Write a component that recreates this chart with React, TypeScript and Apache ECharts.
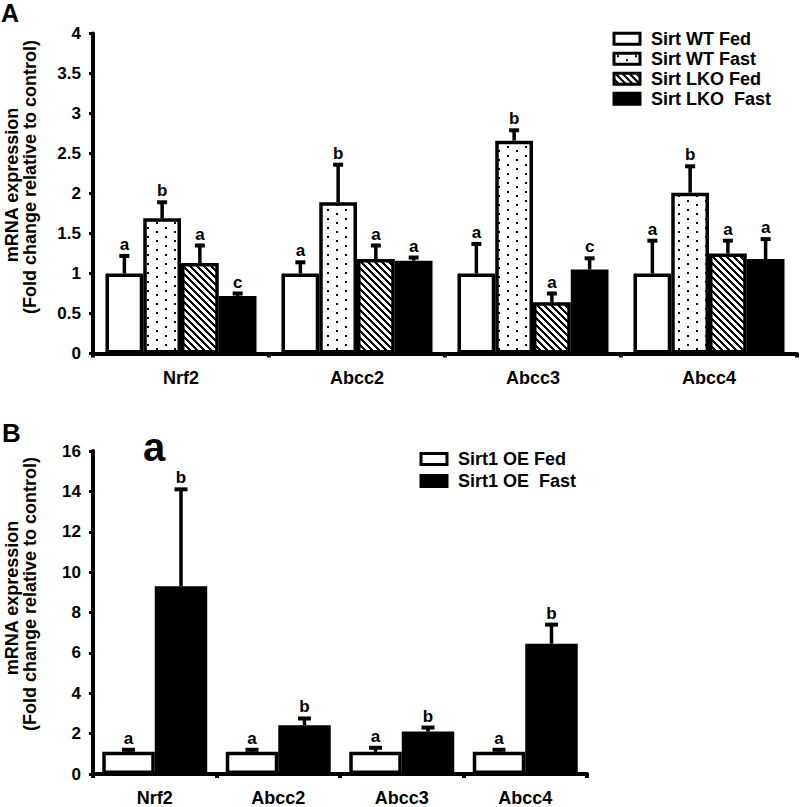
import React, { useEffect, useRef } from 'react';
import * as echarts from 'echarts';

const FONT = '"Liberation Sans", Arial, sans-serif';

// ---------- Panel A data ----------
const categoriesA = ['Nrf2', 'Abcc2', 'Abcc3', 'Abcc4'];
const namesA = ['Sirt WT Fed', 'Sirt WT Fast', 'Sirt LKO Fed', 'Sirt LKO  Fast'];
const wtFed = [1.0, 1.0, 1.0, 1.0];
const wtFedErr = [0.22, 0.14, 0.37, 0.41];
const wtFedSig = ['a', 'a', 'a', 'a'];
const wtFast = [1.69, 1.89, 2.66, 2.01];
const wtFastErr = [0.2, 0.47, 0.13, 0.33];
const wtFastSig = ['b', 'b', 'b', 'b'];
const lkoFed = [1.13, 1.18, 0.64, 1.25];
const lkoFedErr = [0.22, 0.17, 0.11, 0.16];
const lkoFedSig = ['a', 'a', 'a', 'a'];
const lkoFast = [0.72, 1.16, 1.05, 1.18];
const lkoFastErr = [0.03, 0.04, 0.14, 0.25];
const lkoFastSig = ['c', 'a', 'c', 'a'];

// ---------- Panel B data ----------
const categoriesB = ['Nrf2', 'Abcc2', 'Abcc3', 'Abcc4'];
const namesB = ['Sirt1 OE Fed', 'Sirt1 OE  Fast'];
const oeFed = [1.1, 1.1, 1.1, 1.1];
const oeFedErr = [0.1, 0.1, 0.2, 0.1];
const oeFedSig = ['a', 'a', 'a', 'a'];
const oeFast = [9.3, 2.42, 2.1, 6.45];
const oeFastErr = [4.8, 0.33, 0.2, 0.95];
const oeFastSig = ['b', 'b', 'b', 'b'];

const GAP_A = 0.142;
const GAP_B = 0.15;

function dotPattern() {
  const c = document.createElement('canvas');
  c.width = 18;
  c.height = 9;
  const ctx = c.getContext('2d')!;
  ctx.fillStyle = '#fff';
  ctx.fillRect(0, 0, 18, 9);
  ctx.fillStyle = '#000';
  ctx.fillRect(3, 2, 2, 2);
  ctx.fillRect(12, 6, 2, 2);
  return { image: c, repeat: 'repeat', imageWidth: 18, imageHeight: 9 };
}

function hatchPattern() {
  const n = 7;
  const c = document.createElement('canvas');
  c.width = n;
  c.height = n;
  const ctx = c.getContext('2d')!;
  const img = ctx.createImageData(n, n);
  for (let y = 0; y < n; y++) {
    for (let x = 0; x < n; x++) {
      const k = (((x - y) % n) + n) % n;
      const v = k < 3 ? 0 : 255;
      const i = (y * n + x) * 4;
      img.data[i] = v;
      img.data[i + 1] = v;
      img.data[i + 2] = v;
      img.data[i + 3] = 255;
    }
  }
  ctx.putImageData(img, 0, 0);
  return { image: c, repeat: 'repeat', imageWidth: n, imageHeight: n };
}

function errorSeries(
  means: number[][],
  errs: number[][],
  sigs: string[][],
  gap: number,
  axisIndex: number,
  capHalf: number
) {
  const n = means.length;
  const data: number[][] = [];
  const letters: string[] = [];
  for (let s = 0; s < n; s++) {
    for (let c = 0; c < means[s].length; c++) {
      data.push([c, s, means[s][c], means[s][c] + errs[s][c]]);
      letters.push(sigs[s][c]);
    }
  }
  return {
    type: 'custom',
    xAxisIndex: axisIndex,
    yAxisIndex: axisIndex,
    z: 5,
    silent: true,
    encode: { x: 0, y: 3 },
    data,
    renderItem: (params: any, api: any) => {
      const cat = api.value(0);
      const si = api.value(1);
      const mean = api.value(2);
      const top = api.value(3);
      const p0 = api.coord([cat, mean]);
      const p1 = api.coord([cat, top]);
      const band = api.size([1, 0])[0];
      const bw = (band * (1 - gap)) / n;
      const x = p0[0] + (si - (n - 1) / 2) * bw;
      return {
        type: 'group',
        children: [
          {
            type: 'line',
            shape: { x1: x, y1: p0[1], x2: x, y2: p1[1] },
            style: { stroke: '#000', lineWidth: 3.5 },
          },
          {
            type: 'line',
            shape: { x1: x - capHalf, y1: p1[1], x2: x + capHalf, y2: p1[1] },
            style: { stroke: '#000', lineWidth: 4 },
          },
          {
            type: 'text',
            style: {
              text: letters[params.dataIndex],
              x: x,
              y: p1[1] - 3,
              align: 'center',
              verticalAlign: 'bottom',
              fontSize: 17,
              fontWeight: 'bold',
              fontFamily: FONT,
              fill: '#000',
            },
          },
        ],
      };
    },
  };
}

export default function App() {
  const ref = useRef<HTMLDivElement>(null);

  useEffect(() => {
    if (!ref.current) return;
    const chart = echarts.init(ref.current, null, { renderer: 'svg' });
    const dots = dotPattern();
    const hatch = hatchPattern();

    const barStyle = (fill: any) => ({
      color: fill,
      borderColor: '#000',
      borderWidth: 3.5,
    });

    const axisLabel = {
      color: '#000',
      fontSize: 17,
      fontWeight: 'bold',
      fontFamily: FONT,
    };

    const catAxis = (idx: number, data: string[]) => ({
      type: 'category',
      gridIndex: idx,
      data,
      boundaryGap: true,
      axisLine: { show: true, lineStyle: { color: '#000', width: 4 } },
      axisTick: { show: true, length: 4, alignWithLabel: false, lineStyle: { color: '#000', width: 4 } },
      axisLabel: { ...axisLabel, fontSize: 18, margin: 15 },
      splitLine: { show: false },
    });

    const valAxis = (idx: number, max: number, interval: number) => ({
      type: 'value',
      gridIndex: idx,
      min: 0,
      max,
      interval,
      axisLine: { show: true, lineStyle: { color: '#000', width: 4 } },
      axisTick: { show: true, length: 4, lineStyle: { color: '#000', width: 3 } },
      axisLabel: { ...axisLabel, margin: 12 },
      splitLine: { show: false },
    });

    const barA = (name: string, data: number[], fill: any) => ({
      type: 'bar',
      name,
      xAxisIndex: 0,
      yAxisIndex: 0,
      data,
      barGap: '0%',
      barCategoryGap: GAP_A * 100 + '%',
      itemStyle: barStyle(fill),
      z: 2,
    });
    const barB = (name: string, data: number[], fill: any) => ({
      type: 'bar',
      name,
      xAxisIndex: 1,
      yAxisIndex: 1,
      data,
      barGap: '0%',
      barCategoryGap: GAP_B * 100 + '%',
      itemStyle: barStyle(fill),
      z: 2,
    });

    const legendBase = {
      orient: 'vertical',
      padding: 0,
      icon: 'rect',
      itemWidth: 26,
      itemHeight: 11,
      selectedMode: false,
      itemStyle: { borderColor: '#000', borderWidth: 3 },
      textStyle: {
        color: '#000',
        fontSize: 18,
        fontWeight: 'bold',
        fontFamily: FONT,
        lineHeight: 18,
        padding: [0, 0, 0, 6],
      },
    };

    chart.setOption({
      animation: false,
      backgroundColor: '#fff',
      grid: [
        { left: 93, top: 33.5, width: 704, height: 320 },
        { left: 93, top: 451, width: 494, height: 324 },
      ],
      xAxis: [catAxis(0, categoriesA), catAxis(1, categoriesB)],
      yAxis: [valAxis(0, 4, 0.5), valAxis(1, 16, 2)],
      legend: [
        { ...legendBase, data: namesA, left: 612.5, top: 29.7, itemGap: 2 },
        { ...legendBase, data: namesB, left: 419.5, top: 450, itemGap: 4 },
      ],
      series: [
        barA(namesA[0], wtFed, '#fff'),
        barA(namesA[1], wtFast, dots),
        barA(namesA[2], lkoFed, hatch),
        barA(namesA[3], lkoFast, '#000'),
        barB(namesB[0], oeFed, '#fff'),
        barB(namesB[1], oeFast, '#000'),
        errorSeries(
          [wtFed, wtFast, lkoFed, lkoFast],
          [wtFedErr, wtFastErr, lkoFedErr, lkoFastErr],
          [wtFedSig, wtFastSig, lkoFedSig, lkoFastSig],
          GAP_A,
          0,
          5
        ),
        errorSeries([oeFed, oeFast], [oeFedErr, oeFastErr], [oeFedSig, oeFastSig], GAP_B, 1, 6.5),
      ],
      graphic: [
        {
          type: 'text',
          x: 1,
          y: 13,
          style: {
            text: 'A',
            fontSize: 25,
            lineHeight: 25,
            fontWeight: 'bold',
            fontFamily: FONT,
            fill: '#000',
            verticalAlign: 'middle',
          },
        },
        {
          type: 'text',
          x: 2,
          y: 433,
          style: {
            text: 'B',
            fontSize: 26,
            lineHeight: 26,
            fontWeight: 'bold',
            fontFamily: FONT,
            fill: '#000',
            verticalAlign: 'middle',
          },
        },
        {
          type: 'text',
          x: 154,
          y: 447,
          style: {
            text: 'a',
            fontSize: 40,
            fontWeight: 'bold',
            fontFamily: FONT,
            fill: '#000',
            align: 'center',
            verticalAlign: 'middle',
          },
        },
        {
          type: 'text',
          x: 12,
          y: 185,
          rotation: Math.PI / 2,
          style: {
            text: 'mRNA expression',
            fontSize: 18,
            fontWeight: 'bold',
            fontFamily: FONT,
            fill: '#000',
            align: 'center',
            verticalAlign: 'middle',
          },
        },
        {
          type: 'text',
          x: 30,
          y: 177,
          rotation: Math.PI / 2,
          style: {
            text: '(Fold change relative to control)',
            fontSize: 18,
            fontWeight: 'bold',
            fontFamily: FONT,
            fill: '#000',
            align: 'center',
            verticalAlign: 'middle',
          },
        },
        {
          type: 'text',
          x: 12,
          y: 598,
          rotation: Math.PI / 2,
          style: {
            text: 'mRNA expression',
            fontSize: 18,
            fontWeight: 'bold',
            fontFamily: FONT,
            fill: '#000',
            align: 'center',
            verticalAlign: 'middle',
          },
        },
        {
          type: 'text',
          x: 30,
          y: 594,
          rotation: Math.PI / 2,
          style: {
            text: '(Fold change relative to control)',
            fontSize: 18,
            fontWeight: 'bold',
            fontFamily: FONT,
            fill: '#000',
            align: 'center',
            verticalAlign: 'middle',
          },
        },
      ],
    });

    return () => {
      chart.dispose();
    };
  }, []);

  return (
    <div
      ref={ref}
      style={{ position: 'absolute', left: 0, top: 0, width: 800, height: 807, background: '#fff' }}
    />
  );
}
